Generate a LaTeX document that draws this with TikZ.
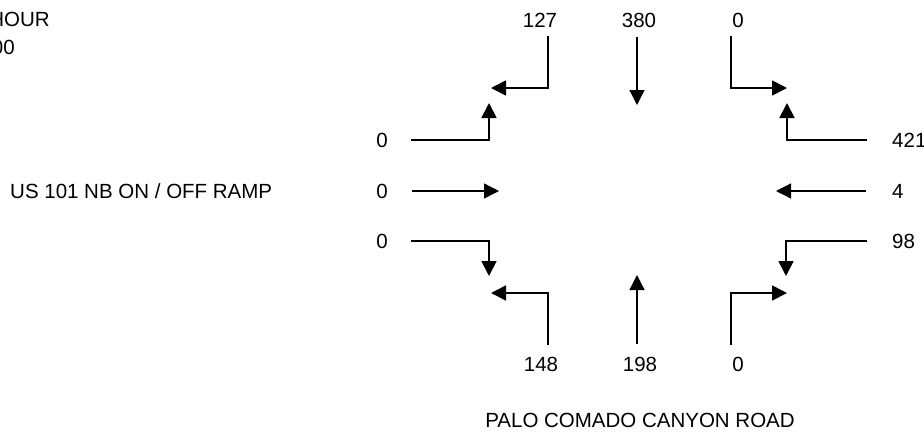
\documentclass[tikz,border=0pt]{standalone}
\usepackage{fontspec}
\setmainfont{Liberation Sans}
\usetikzlibrary{arrows.meta}
\begin{document}
\begin{tikzpicture}[x=1pt,y=-1pt,>={Triangle[length=15pt,width=15pt]},
 font=\fontsize{20.5}{25}\selectfont,
 leg/.style={line width=2.7pt,line cap=rect},
 turn/.style={->,line width=1.8pt},
 thru/.style={->,line width=1.3pt},
 lbl/.style={inner sep=0pt}]
\useasboundingbox (0,0) rectangle (924,432);
% titles
\node[lbl,anchor=east] (hour) at (50,19) {HOUR};
\node[lbl,anchor=east] (time) at (15,47) {00};
\node[lbl,anchor=west] (ramp) at (10,191) {US 101 NB ON / OFF RAMP};
\node[lbl] (road) at (640,420) {PALO COMADO CANYON ROAD};
% volumes
\foreach \name/\x/\y/\vol in {sl/540/20/127,st/639/20/380,sr/738/20/0,
 nl/541/364/148,nt/640/364/198,nr/738/364/0,
 el/382/140/0,et/382/191/0,er/382/241/0}
 \node[lbl] (\name) at (\x,\y) {\vol};
\foreach \name/\y/\vol in {wr/140/421,wt/191/4,wl/241/98}
 \node[lbl,anchor=west] (\name) at (892,\y) {\vol};
% through movements
\foreach \t/\ax/\ay/\bx/\by in {st/637/37/637/105,nt/637/344/637/275,
 et/412/191/499/191,wt/866/191/776/191}{
 \coordinate (\t-a) at (\ax,\ay);
 \coordinate (\t-b) at (\bx,\by);
 \draw[thru] (\t-a) -- (\t-b);
}
% turning movements
\foreach \t/\ax/\ay/\bx/\by/\cx/\cy in {sl/548/37/548/88/491/88,
 sr/731/37/731/88/787/88,el/412/140/489/140/489/103,
 er/412/241/489/241/489/276,wr/866/140/787/140/787/103,
 wl/866/241/786/241/786/276,nl/548/344/548/293/491/293,
 nr/731/344/731/293/787/293}{
 \coordinate (\t-a) at (\ax,\ay);
 \coordinate (\t-b) at (\bx,\by);
 \coordinate (\t-c) at (\cx,\cy);
 \draw[leg] (\t-a) -- (\t-b);
 \draw[turn] (\t-b) -- (\t-c);
}
\end{tikzpicture}
\end{document}
